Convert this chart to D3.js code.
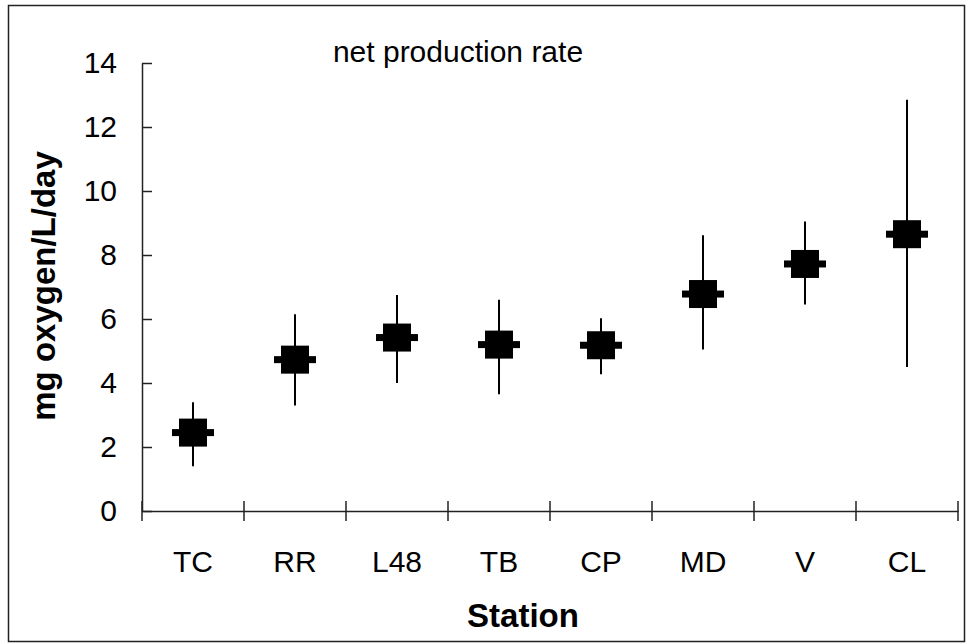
<!DOCTYPE html>
<html>
<head>
<meta charset="utf-8">
<script src="https://cdn.jsdelivr.net/npm/d3@7"></script>
<style>
body { margin: 0; background: #fff; }
svg { display: block; font-family: Arial, "Liberation Sans", sans-serif; }
</style>
</head>
<body>
<script>
var stations = ["TC", "RR", "L48", "TB", "CP", "MD", "V", "CL"];
var rates = [2.45, 4.73, 5.42, 5.2, 5.18, 6.78, 7.72, 8.65];
var lows = [1.4, 3.3, 4.0, 3.65, 4.27, 5.05, 6.45, 4.5];
var highs = [3.4, 6.15, 6.75, 6.6, 6.02, 8.62, 9.05, 12.85];
var yTicks = [0, 2, 4, 6, 8, 10, 12, 14];

var data = stations.map((s, i) => ({station: s, rate: rates[i], lo: lows[i], hi: highs[i]}));

var W = 967, H = 644;
var svg = d3.select("body").append("svg")
	.attr("width", W)
	.attr("height", H);

// outer frame
svg.append("rect")
	.attr("x", 8.5).attr("y", 5.5)
	.attr("width", 956).attr("height", 636)
	.attr("fill", "none")
	.attr("stroke", "#222")
	.attr("stroke-width", 1.5);

var x = d3.scaleBand().domain(stations).range([142, 958]);
var y = d3.scaleLinear().domain([0, 14]).range([511, 63]);

// y axis with cross ticks
var yAxis = svg.append("g").attr("transform", "translate(142,0)")
	.call(d3.axisLeft(y).tickValues(yTicks).tickSize(10).tickSizeOuter(0).tickPadding(15));
yAxis.selectAll(".tick line").attr("x2", 10);
yAxis.selectAll("line, path").attr("stroke", "#222").attr("stroke-width", 1.5);
yAxis.selectAll("text").attr("font-size", "30px").attr("fill", "#000")
	.attr("font-family", "Arial, 'Liberation Sans', sans-serif");

// x axis, ticks on category boundaries
var xAxis = svg.append("g").attr("transform", "translate(0,511)")
	.call(d3.axisBottom(x).tickSize(0).tickPadding(40));
xAxis.select("path").attr("stroke", "#222").attr("stroke-width", 1.5);
xAxis.selectAll("text").attr("font-size", "30px").attr("fill", "#000")
	.attr("font-family", "Arial, 'Liberation Sans', sans-serif");
var bounds = stations.map(s => x(s)).concat([x.range()[1]]);
xAxis.selectAll(".bound").data(bounds).enter()
	.append("line")
	.attr("x1", d => d).attr("x2", d => d)
	.attr("y1", -10).attr("y2", 10)
	.attr("stroke", "#222")
	.attr("stroke-width", 1.5);

var cx = d => x(d.station) + x.bandwidth() / 2;

// error bars
svg.selectAll(".err").data(data).enter()
	.append("line")
	.attr("x1", cx).attr("x2", cx)
	.attr("y1", d => y(d.lo)).attr("y2", d => y(d.hi))
	.attr("stroke", "#000")
	.attr("stroke-width", 2);

// square markers
svg.selectAll(".sq").data(data).enter()
	.append("rect")
	.attr("x", d => cx(d) - 14)
	.attr("y", d => y(d.rate) - 14)
	.attr("width", 28).attr("height", 28)
	.attr("fill", "#000");

// dash markers
svg.selectAll(".dash").data(data).enter()
	.append("rect")
	.attr("x", d => cx(d) - 21)
	.attr("y", d => y(d.rate) - 3.5)
	.attr("width", 42).attr("height", 7)
	.attr("fill", "#000");

svg.append("text")
	.attr("x", 458).attr("y", 62)
	.attr("text-anchor", "middle")
	.attr("font-size", "30px")
	.text("net production rate");

svg.append("text")
	.attr("x", 523).attr("y", 627)
	.attr("text-anchor", "middle")
	.attr("font-size", "33px")
	.attr("font-weight", "bold")
	.text("Station");

svg.append("text")
	.attr("transform", "translate(55,286) rotate(-90)")
	.attr("text-anchor", "middle")
	.attr("font-size", "33px")
	.attr("font-weight", "bold")
	.text("mg oxygen/L/day");
</script>
</body>
</html>
